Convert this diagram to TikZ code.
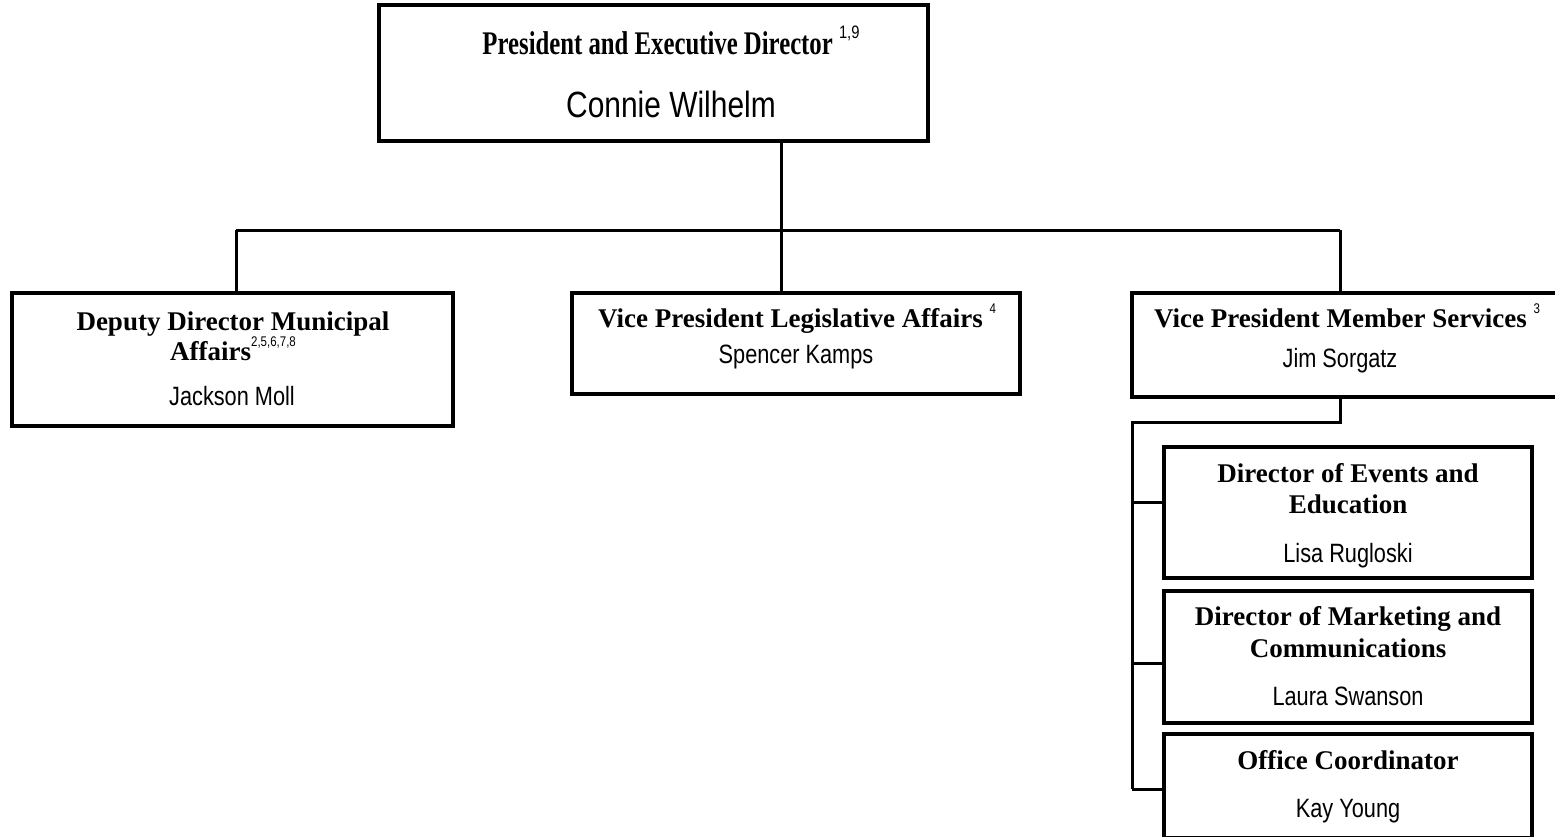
\documentclass[tikz,border=0pt]{standalone}
\usepackage{fontspec}
\setmainfont{Liberation Serif}
\newfontfamily\namefont[FakeStretch=0.82]{Liberation Sans}
\newfontfamily\bigserif[FakeStretch=0.75]{Liberation Serif}
\tikzset{
  box/.style={draw=black, line width=3.6pt, fill=white, inner sep=0pt, outer sep=0pt},
  conn/.style={draw=black, line width=3pt},
  ttl/.style={font=\fontsize{27}{31}\selectfont\bfseries, anchor=base, inner sep=0pt},
  bigttl/.style={font=\bigserif\fontsize{33}{38}\selectfont\bfseries, anchor=base, inner sep=0pt},
  nm/.style={font=\namefont\fontsize{26.5}{30}\selectfont, anchor=base, inner sep=0pt},
  bignm/.style={font=\namefont\fontsize{36.5}{40}\selectfont, anchor=base, inner sep=0pt},
}
\newcommand{\sups}[1]{\raisebox{0.5em}{\mdseries\namefont\fontsize{14}{14}\selectfont #1}}
\newcommand{\bigsups}[1]{\raisebox{0.5em}{\mdseries\namefont\fontsize{18}{18}\selectfont #1}}
\begin{document}
\begin{tikzpicture}[x=1pt, y=-1pt]
\useasboundingbox (0,0) rectangle (1555,837);
\clip (0,0) rectangle (1555,837);
\fill[white] (0,0) rectangle (1555,837);
% boxes
\node[box, minimum width=549pt, minimum height=136pt] (pres) at (653.5,73) {};
\node[box, minimum width=441pt, minimum height=133pt] (dep) at (232.5,359.5) {};
\node[box, minimum width=448pt, minimum height=101pt] (vpl) at (796,343.5) {};
\node[box, minimum width=440pt, minimum height=104pt] (vpm) at (1352,345) {};
\node[box, minimum width=368pt, minimum height=131pt] (dee) at (1348,512.5) {};
\node[box, minimum width=368pt, minimum height=132pt] (dmc) at (1348,657) {};
\node[box, minimum width=368pt, minimum height=104pt] (oc) at (1348,786) {};
% connector coordinates
\coordinate (bus) at (781,230);
\coordinate (busL) at (236,230);
\coordinate (busR) at (1340,230);
\coordinate (sub) at (1340,422);
\coordinate (subL) at (1132,422);
\coordinate (t1) at (1132,502);
\coordinate (t2) at (1132,663);
\coordinate (t3) at (1132,789);
% connectors
\draw[conn] (pres.south -| bus) -- (bus);
\draw[conn] (bus) -- (vpl.north -| bus);
\draw[conn] (busL) -- (busR);
\draw[conn] (busL) -- (dep.north -| busL);
\draw[conn] (busR) -- (vpm.north -| busR);
\draw[conn] (vpm.south -| sub) -- (sub) -- (subL) -- (t3);
\draw[conn] (t1) -- (t1 -| dee.west);
\draw[conn] (t2) -- (t2 -| dmc.west);
\draw[conn] (t3) -- (t3 -| oc.west);
% texts
\node[bigttl] (presT) at (671,55) {President and Executive Director \bigsups{1,9}};
\node[bignm] (presN) at (671,118) {Connie Wilhelm};
\node[ttl] (depT1) at (233,330) {Deputy Director Municipal};
\node[ttl] (depT2) at (233,360) {Affairs\sups{2,5,6,7,8}};
\node[nm] (depN) at (232,405) {Jackson Moll};
\node[ttl] (vplT) at (797,327) {Vice President Legislative Affairs \sups{4}};
\node[nm] (vplN) at (796,363) {Spencer Kamps};
\node[ttl] (vpmT) at (1347,327) {Vice President Member Services \sups{3}};
\node[nm] (vpmN) at (1340,367) {Jim Sorgatz};
\node[ttl] (deeT1) at (1348,482) {Director of Events and};
\node[ttl] (deeT2) at (1348,513) {Education};
\node[nm] (deeN) at (1348,562) {Lisa Rugloski};
\node[ttl] (dmcT1) at (1348,625) {Director of Marketing and};
\node[ttl] (dmcT2) at (1348,657) {Communications};
\node[nm] (dmcN) at (1348,705) {Laura Swanson};
\node[ttl] (ocT) at (1348,769) {Office Coordinator};
\node[nm] (ocN) at (1348,817) {Kay Young};
\end{tikzpicture}
\end{document}
